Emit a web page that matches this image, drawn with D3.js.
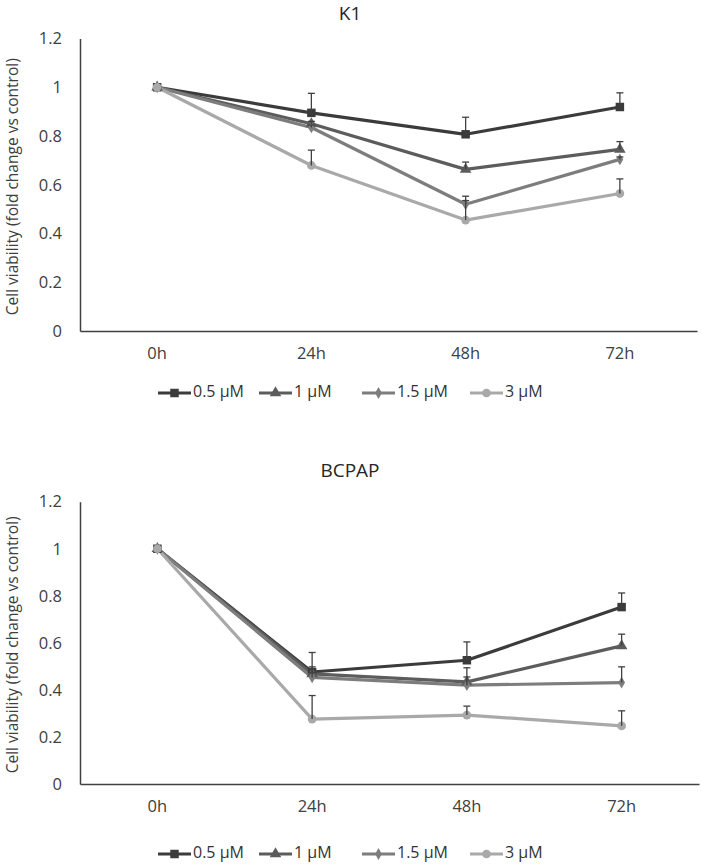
<!DOCTYPE html>
<html>
<head>
<meta charset="utf-8">
<script src="https://cdn.jsdelivr.net/npm/d3@7"></script>
<style>
  html, body { margin: 0; padding: 0; background: #fff; }
  svg { display: block; }
  text { font-family: "Open Sans", "Noto Sans", sans-serif; fill: #404040; }
</style>
</head>
<body>
<svg id="chart" width="702" height="866"></svg>
<script>
// ---- data ----
const categories = ["0h", "24h", "48h", "72h"];
const seriesNames = ["0.5 µM", "1 µM", "1.5 µM", "3 µM"];
const yTicks = [0, 0.2, 0.4, 0.6, 0.8, 1, 1.2];
const yTickLabels = ["0", "0.2", "0.4", "0.6", "0.8", "1", "1.2"];

const k1_05 = [1, 0.895, 0.807, 0.919];
const k1_1 = [1, 0.850, 0.663, 0.745];
const k1_15 = [1, 0.835, 0.520, 0.704];
const k1_3 = [1, 0.679, 0.455, 0.564];
const k1_05_err = [0, 0.080, 0.070, 0.058];
const k1_1_err = [0, 0.010, 0.030, 0.032];
const k1_15_err = [0, 0.010, 0.033, 0.010];
const k1_3_err = [0, 0.063, 0.080, 0.060];

const bc_05 = [1, 0.476, 0.526, 0.752];
const bc_1 = [1, 0.468, 0.434, 0.587];
const bc_15 = [1, 0.453, 0.420, 0.431];
const bc_3 = [1, 0.276, 0.293, 0.247];
const bc_05_err = [0, 0.083, 0.078, 0.060];
const bc_1_err = [0, 0.030, 0.060, 0.050];
const bc_15_err = [0, 0.020, 0.035, 0.067];
const bc_3_err = [0, 0.100, 0.038, 0.064];

const titles = ["K1", "BCPAP"];
const yTitle = "Cell viability (fold change vs control)";

// ---- styles ----
const colors = ["#3b3b3b", "#5c5c5c", "#7d7d7d", "#a9a9a9"];
const symbols = [d3.symbolSquare, d3.symbolTriangle, d3.symbolDiamond, d3.symbolCircle];
const symSizes = [72, 58, 40, 60];

const panels = [
  { title: titles[0], left: 80, right: 697, top: 38.5, bottom: 331, titleY: 15, legendY: 393,
    series: [k1_05, k1_1, k1_15, k1_3], errs: [k1_05_err, k1_1_err, k1_15_err, k1_3_err] },
  { title: titles[1], left: 80, right: 699, top: 501.7, bottom: 784, titleY: 472, legendY: 854,
    series: [bc_05, bc_1, bc_15, bc_3], errs: [bc_05_err, bc_1_err, bc_15_err, bc_3_err] }
];

const svg = d3.select("#chart");

panels.forEach(p => {
  const g = svg.append("g");
  const x = d3.scaleBand().domain(categories).range([p.left, p.right]);
  const cx = c => x(c) + x.bandwidth() / 2;
  const y = d3.scaleLinear().domain([0, 1.2]).range([p.bottom, p.top]);

  // title
  g.append("text").attr("x", 350).attr("y", p.titleY)
    .attr("text-anchor", "middle").attr("dominant-baseline", "middle")
    .style("font-size", "19px").style("fill", "#262626").text(p.title);

  // y axis
  const yAxis = d3.axisLeft(y).tickValues(yTicks)
    .tickFormat((d, i) => yTickLabels[i]).tickSize(0).tickPadding(18);
  const ya = g.append("g").attr("transform", `translate(${p.left},0)`).call(yAxis);
  ya.select(".domain").attr("stroke", "#404040").attr("stroke-width", 1.5);
  ya.selectAll("text").style("font-size", "16.5px").style("fill", "#404040")
    .style("font-family", "'Open Sans', sans-serif");

  // x axis
  const xAxis = d3.axisBottom(x).tickSize(0).tickPadding(16);
  const xa = g.append("g").attr("transform", `translate(0,${p.bottom})`).call(xAxis);
  xa.select(".domain").attr("stroke", "#404040").attr("stroke-width", 1.5);
  xa.selectAll("text").style("font-size", "16.5px").style("fill", "#404040")
    .style("font-family", "'Open Sans', sans-serif");

  // y title
  g.append("text")
    .attr("transform", `translate(14,${(p.top + p.bottom) / 2 + 2}) rotate(-90)`)
    .attr("text-anchor", "middle").attr("dominant-baseline", "middle")
    .style("font-size", "15.5px").text(yTitle);

  const line = d3.line().x((d, i) => cx(categories[i])).y(d => y(d));

  // lines
  p.series.forEach((vals, si) => {
    g.append("path").datum(vals)
      .attr("d", line).attr("fill", "none")
      .attr("stroke", colors[si]).attr("stroke-width", 3.2)
      .attr("stroke-linejoin", "round");
  });
  // markers
  p.series.forEach((vals, si) => {
    g.selectAll(null).data(vals).enter().append("path")
      .attr("transform", (d, i) => `translate(${cx(categories[i])},${y(d)})`)
      .attr("d", d3.symbol().type(symbols[si]).size(symSizes[si]))
      .attr("fill", colors[si]);
  });
  // error bars (plus direction)
  p.series.forEach((vals, si) => {
    const errs = p.errs[si];
    vals.forEach((v, i) => {
      if (!errs[i]) return;
      const xx = cx(categories[i]);
      g.append("line").attr("x1", xx).attr("x2", xx)
        .attr("y1", y(v)).attr("y2", y(v + errs[i]))
        .attr("stroke", "#404040").attr("stroke-width", 1.3);
      g.append("line").attr("x1", xx - 3.5).attr("x2", xx + 3.5)
        .attr("y1", y(v + errs[i])).attr("y2", y(v + errs[i]))
        .attr("stroke", "#404040").attr("stroke-width", 1.3);
    });
  });

  // legend
  const textX = [193, 294, 397, 505];
  const lg = g.append("g");
  seriesNames.forEach((name, si) => {
    const tx = textX[si];
    lg.append("line").attr("x1", tx - 35).attr("x2", tx - 2)
      .attr("y1", p.legendY).attr("y2", p.legendY)
      .attr("stroke", colors[si]).attr("stroke-width", 3.2);
    lg.append("path").attr("transform", `translate(${tx - 18.5},${p.legendY})`)
      .attr("d", d3.symbol().type(symbols[si]).size(symSizes[si]))
      .attr("fill", colors[si]);
    lg.append("text").attr("x", tx).attr("y", p.legendY)
      .attr("dominant-baseline", "middle")
      .style("font-size", "16px").style("fill", "#333").text(name);
  });
});
</script>
</body>
</html>
